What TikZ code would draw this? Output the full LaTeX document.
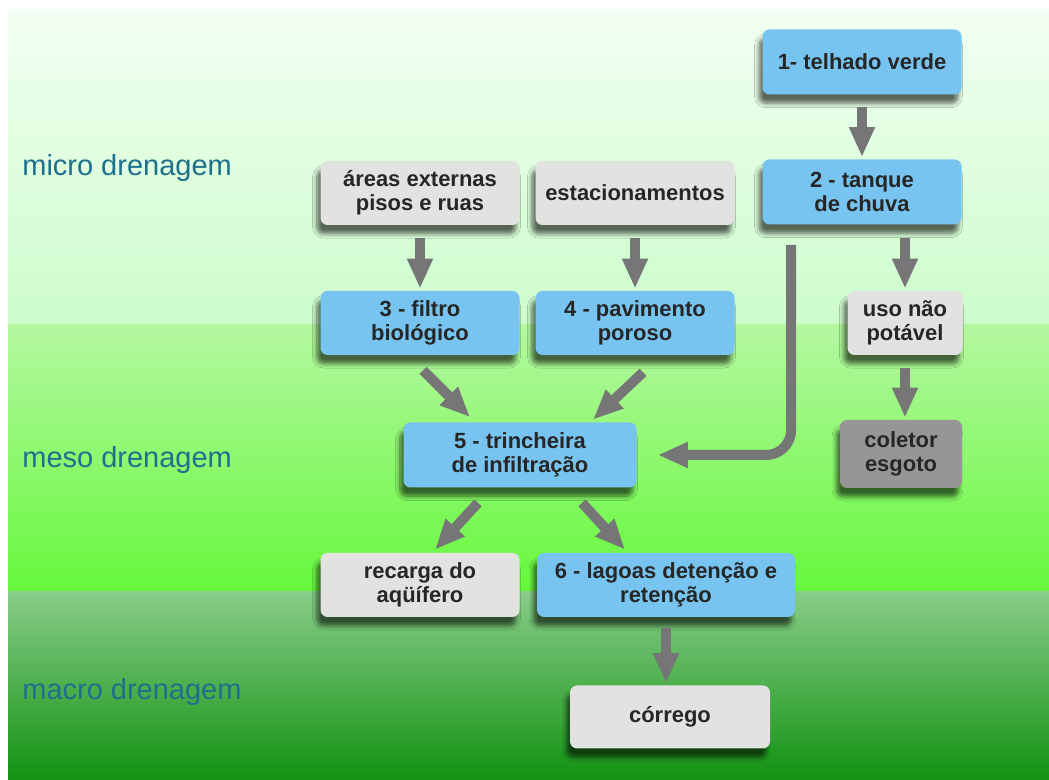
\documentclass[tikz,border=0pt]{standalone}
\usepackage{fontspec}
\setmainfont{Liberation Sans}
\usepackage{tikz}
\usetikzlibrary{positioning,arrows.meta,calc,shadows.blur}
\definecolor{boxblue}{RGB}{120,196,240}
\definecolor{boxgray}{RGB}{226,226,224}
\definecolor{boxdark}{RGB}{150,150,150}
\definecolor{arrgray}{RGB}{118,118,118}
\definecolor{labcol}{RGB}{30,112,140}

\begin{document}
\begin{tikzpicture}[
  every node/.style={font=\fontsize{12.5}{13.5}\selectfont\bfseries},
  box/.style={rounded corners=4pt, minimum width=3.98cm, minimum height=1.28cm,
    align=center, inner sep=2pt, text=black!85,
    blur shadow={shadow xshift=-2pt, shadow yshift=-5pt, shadow blur steps=6,
      shadow blur radius=2.5pt, shadow opacity=60}},
  bluebox/.style={box, fill=boxblue},
  graybox/.style={box, fill=boxgray},
  arr/.style={draw=arrgray, line width=0.2cm, -{Triangle[width=0.48cm, length=0.6cm]}},
  lab/.style={font=\fontsize{16.5}{18}\selectfont, text=labcol, anchor=west, inner sep=0pt},
]
\useasboundingbox (0,0) rectangle (20.98,15.6);
\fill[white] (0,0) rectangle (20.98,15.6);
% background bands
\shade[top color={rgb,255:red,242;green,255;blue,242}, bottom color={rgb,255:red,204;green,252;blue,204}]
  (0.16,9.1) rectangle (20.98,15.4);
\shade[top color={rgb,255:red,180;green,248;blue,160}, bottom color={rgb,255:red,102;green,248;blue,60}]
  (0.16,3.76) rectangle (20.98,9.1);
\shade[top color={rgb,255:red,136;green,204;blue,136}, bottom color={rgb,255:red,18;green,146;blue,18}]
  (0.16,0) rectangle (20.98,3.76);
% level labels
\node[lab] (micro) at (0.44,12.24) {micro drenagem};
\node[lab] (meso)  at (0.44,6.4)   {meso drenagem};
\node[lab] (macro) at (0.44,1.76)  {macro drenagem};
% boxes
\node[bluebox, minimum height=1.3cm] (tel) at (17.24,14.36) {1- telhado verde};
\node[bluebox, minimum height=1.3cm] (tan) at (17.24,11.76) {2 - tanque\\de chuva};
\node[graybox] (are) at (8.4,11.74)  {áreas externas\\pisos e ruas};
\node[graybox] (est) at (12.7,11.74) {estacionamentos};
\node[bluebox] (fil) at (8.4,9.14)   {3 - filtro\\biológico};
\node[bluebox] (pav) at (12.7,9.14)  {4 - pavimento\\poroso};
\node[graybox, minimum width=2.3cm] (uso) at (18.1,9.14) {uso não\\potável};
\node[bluebox, minimum width=4.66cm, minimum height=1.3cm] (tri) at (10.4,6.5) {5 - trincheira\\de infiltração};
\node[box, fill=boxdark, minimum width=2.44cm, minimum height=1.36cm] (col) at (18.02,6.52) {coletor\\esgoto};
\node[graybox] (rec) at (8.4,3.9)    {recarga do\\aqüífero};
\node[bluebox, minimum width=5.16cm] (lag) at (13.32,3.9) {6 - lagoas detenção e\\retenção};
\node[graybox, minimum width=4.0cm, minimum height=1.26cm] (cor) at (13.4,1.26) {córrego};
% arrows
\draw[arr] ([yshift=-0.24cm]tel.south) -- ([yshift=0.04cm]tan.north);
\draw[arr] ([yshift=-0.26cm]are.south) -- ([yshift=0.04cm]fil.north);
\draw[arr] ([yshift=-0.26cm]est.south) -- ([yshift=0.04cm]pav.north);
\draw[arr] ([xshift=0.86cm,yshift=-0.26cm]tan.south) -- ([yshift=0.04cm]uso.north);
\draw[arr] ([yshift=-0.26cm]uso.south) -- ([yshift=0.04cm]uso.south |- col.north);
\draw[arr] ([xshift=0.06cm,yshift=-0.3cm]fil.south) -- ([xshift=-1.0cm,yshift=0.1cm]tri.north);
\draw[arr] ([xshift=0.16cm,yshift=-0.34cm]pav.south) -- ([xshift=1.46cm,yshift=0.05cm]tri.north);
\draw[arr, rounded corners=0.5cm] ([xshift=0.58cm,yshift=-0.4cm]tan.south west) |- ([xshift=0.42cm]tri.east);
\draw[arr] ([xshift=-0.84cm,yshift=-0.3cm]tri.south) -- ([xshift=0.3cm,yshift=0.06cm]rec.north);
\draw[arr] ([xshift=1.24cm,yshift=-0.3cm]tri.south) -- ([xshift=-0.82cm,yshift=0.06cm]lag.north);
\draw[arr] ([yshift=-0.22cm]lag.south) -- ([yshift=0.04cm]lag.south |- cor.north);
\end{tikzpicture}
\end{document}
